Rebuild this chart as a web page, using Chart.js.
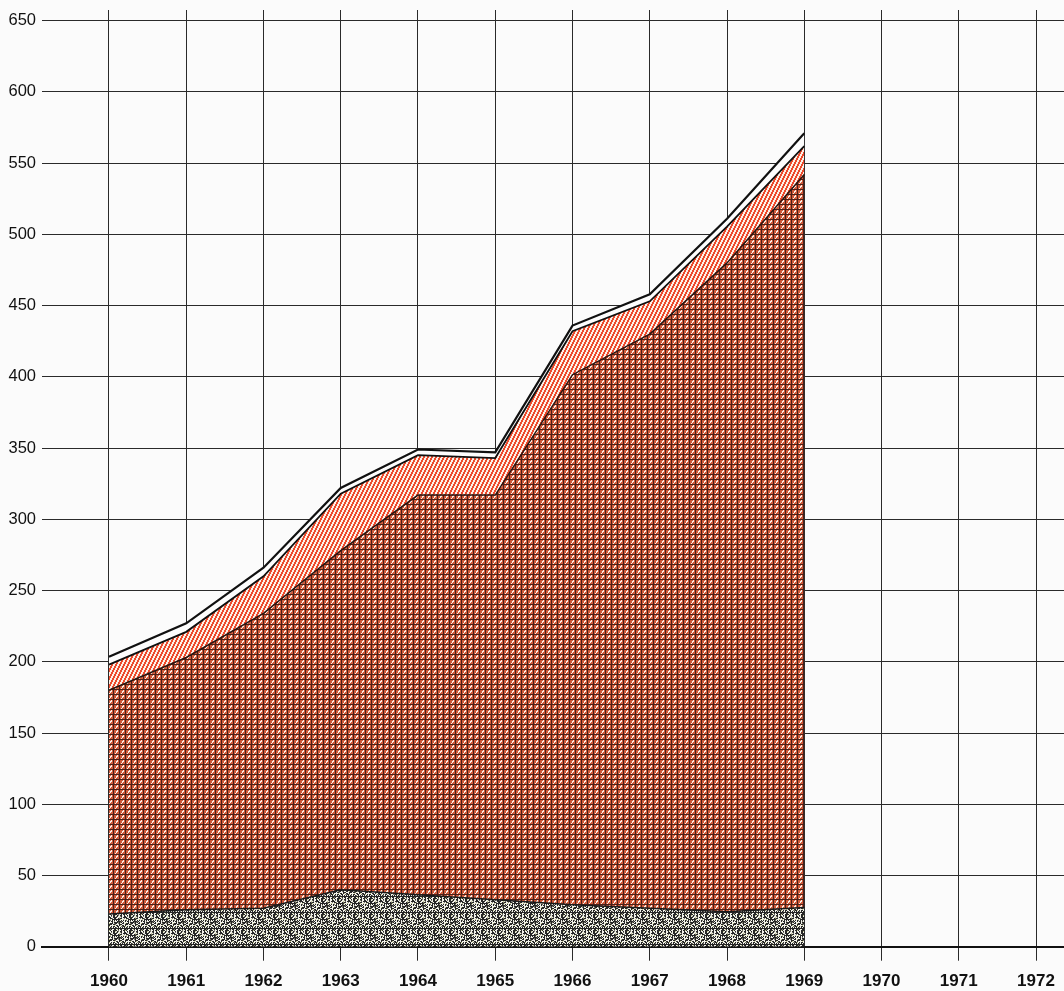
<!DOCTYPE html>
<html>
<head>
<meta charset="utf-8">
<script src="https://cdn.jsdelivr.net/npm/chart.js@4/dist/chart.umd.min.js"></script>
<style>
html,body{margin:0;padding:0;background:#fbfbfb;}
#wrap{width:1064px;height:991px;}
</style>
</head>
<body>
<div id="wrap"><canvas id="c" width="1064" height="991"></canvas></div>
<script>
// ---- data ----
const years = [1960, 1961, 1962, 1963, 1964, 1965, 1966, 1967, 1968, 1969];
const axisYears = [1960, 1961, 1962, 1963, 1964, 1965, 1966, 1967, 1968, 1969, 1970, 1971, 1972];
const yTicks = [0, 50, 100, 150, 200, 250, 300, 350, 400, 450, 500, 550, 600, 650];
// stacked layer thicknesses (bottom to top)
const stippleLayer   = [23, 26, 27, 40, 36.5, 33, 29.5, 27, 24.5, 27.5];
const crossLayer     = [157, 177, 207, 238, 280.5, 284, 372, 403, 455.5, 514.5];
const redHatchLayer  = [18, 18, 26, 40, 28, 26, 30.5, 23, 25.5, 20];
const whiteLayer     = [5.5, 6, 6, 4, 4, 4, 4, 5, 5.5, 9];

// ---- patterns (styling only) ----
function makeTile(w, h, draw) {
  const c = document.createElement('canvas');
  c.width = w; c.height = h;
  const g = c.getContext('2d');
  draw(g, w, h);
  return g.createPattern(c, 'repeat');
}
const crossPattern = makeTile(6, 5, (g) => {
  g.fillStyle = '#cf5a3a'; g.fillRect(0, 0, 6, 5);
  g.fillStyle = '#4a2018';
  g.fillRect(0, 4, 6, 1);
  g.fillRect(5, 0, 1, 5);
  g.fillStyle = '#fbefe6';
  g.fillRect(3, 0, 1, 1);
  g.fillRect(2, 1, 1, 1);
  g.fillRect(3, 1, 1, 1);
  g.fillRect(2, 2, 1, 1);
  g.fillRect(1, 3, 1, 1);
});
const hatchPattern = makeTile(4, 8, (g) => {
  g.fillStyle = '#fcefe6'; g.fillRect(0, 0, 4, 8);
  g.fillStyle = '#ec4a2c';
  for (let y = 0; y < 8; y++) {
    const off = Math.floor((7 - y) / 2);
    g.fillRect(off % 4, y, 1, 1);
    g.fillRect((off + 1) % 4, y, 1, 1);
  }
});
const stipplePattern = makeTile(16, 16, (g) => {
  g.fillStyle = '#f2f2ea'; g.fillRect(0, 0, 16, 16);
  for (let y = 0; y < 16; y++) {
    for (let x = 0; x < 16; x++) {
      const h = (x * 37 + y * 91 + x * y * 13 + (x ^ y) * 7) % 11;
      if (h < 5) { g.fillStyle = '#262626'; g.fillRect(x, y, 1, 1); }
      else if (h === 5) { g.fillStyle = '#7a7a6c'; g.fillRect(x, y, 1, 1); }
      else if (h === 6 && (x + y) % 3 === 0) { g.fillStyle = '#c4c890'; g.fillRect(x, y, 1, 1); }
    }
  }
});

function pts(arr) { return years.map((yr, i) => ({ x: yr, y: arr[i] })); }

const ctx = document.getElementById('c').getContext('2d');
new Chart(ctx, {
  type: 'line',
  data: {
    datasets: [
      { label: 'stipple', data: pts(stippleLayer), fill: 'origin', backgroundColor: stipplePattern,
        borderColor: '#1a1a1a', borderWidth: 1.5, pointRadius: 0, tension: 0 },
      { label: 'cross', data: pts(crossLayer), fill: '-1', backgroundColor: crossPattern,
        borderColor: '#2a1510', borderWidth: 1.5, pointRadius: 0, tension: 0 },
      { label: 'hatch', data: pts(redHatchLayer), fill: '-1', backgroundColor: hatchPattern,
        borderColor: '#111', borderWidth: 1.8, pointRadius: 0, tension: 0 },
      { label: 'white', data: pts(whiteLayer), fill: '-1', backgroundColor: '#fdfdfd',
        borderColor: '#111', borderWidth: 2.2, pointRadius: 0, tension: 0 }
    ]
  },
  options: {
    responsive: false,
    animation: false,
    layout: { padding: { top: 10, right: 0, bottom: 0, left: 0 } },
    plugins: { legend: { display: false }, tooltip: { enabled: false } },
    scales: {
      x: {
        type: 'linear',
        min: 1959.133,
        max: 1972.362,
        afterBuildTicks: (s) => { s.ticks = axisYears.map(v => ({ value: v })); },
        afterFit: (s) => { s.height = 44.3; s.paddingLeft = 0; s.paddingRight = 0; },
        ticks: {
          callback: (v) => String(v),
          color: '#111',
          font: { family: "'Liberation Sans Narrow', 'Liberation Sans'", size: 17, weight: 'bold' },
          padding: 10,
          maxRotation: 0, autoSkip: false
        },
        grid: { color: '#2a2a2a', lineWidth: 1, drawTicks: true, tickLength: 14, tickColor: '#2a2a2a' },
        border: { display: true, color: '#111', width: 2 }
      },
      y: {
        stacked: true,
        min: 0,
        max: 657.5,
        afterBuildTicks: (s) => { s.ticks = yTicks.map(v => ({ value: v })); },
        afterFit: (s) => { s.width = 42; s.paddingTop = 0; s.paddingBottom = 0; },
        ticks: {
          color: '#111',
          font: { family: 'Liberation Sans', size: 16.5 },
          padding: 6
        },
        grid: { color: '#2a2a2a', lineWidth: 1, drawTicks: false },
        border: { display: false }
      }
    }
  }
});
</script>
</body>
</html>
